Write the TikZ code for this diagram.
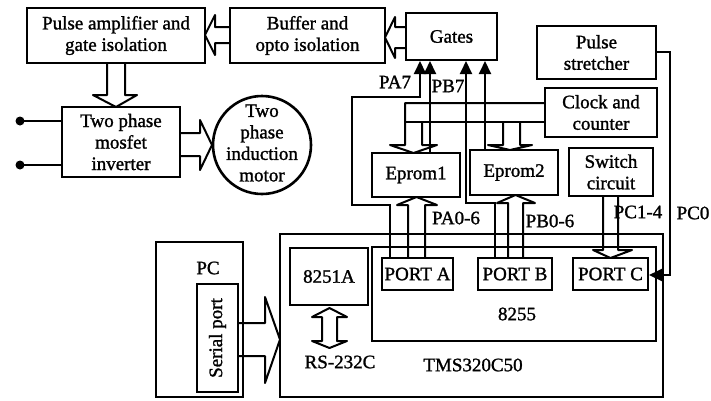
\documentclass[tikz,border=0pt]{standalone}
\usepackage{fontspec}
\setmainfont{Liberation Serif}[FakeBold=1.3]
\usetikzlibrary{arrows.meta}
\newcommand\figfont{\fontsize{19}{21.5}\selectfont}
\begin{document}
\begin{tikzpicture}[x=1pt,y=-1pt,
  box/.style={draw, line width=2.6pt, align=center, inner sep=0pt, font=\figfont},
  conn/.style={line width=2pt},
  harrow/.style={line width=2pt, line join=round},
  tip/.style={-{Triangle[length=13pt,width=12pt]}},
  lbl/.style={font=\figfont, inner sep=0pt, align=center}
]
\useasboundingbox (0,0) rectangle (711,400);

% boxes
\node[box, minimum width=178pt, minimum height=55pt] (pamp) at (116,35.5) {Pulse amplifier and\\gate isolation};
\node[box, minimum width=155pt, minimum height=55pt] (buf) at (307.5,35.5) {Buffer and\\opto isolation};
\node[box, minimum width=91pt, minimum height=47pt] (gates) at (451.5,36.5) {Gates};
\node[box, minimum width=119pt, minimum height=53pt] (pstr) at (596.5,52.5) {Pulse\\stretcher};
\node[box, minimum width=112pt, minimum height=49pt] (clk) at (601,112.5) {Clock and\\counter};
\node[box, minimum width=88pt, minimum height=44pt] (ep1) at (416,175) {Eprom1};
\node[box, minimum width=88pt, minimum height=45pt] (ep2) at (514,172.5) {Eprom2};
\node[box, minimum width=84pt, minimum height=48pt] (sw) at (611,172) {Switch\\circuit};
\node[box, minimum width=118pt, minimum height=70pt] (inv) at (121,142) {Two phase\\mosfet\\inverter};
\node[draw, circle, line width=2.6pt, minimum size=98pt, inner sep=0pt] (motor) at (262,145) {};
\node[lbl] (motortxt) at (262,143) {Two\\phase\\induction\\motor};

\node[box, minimum width=87pt, minimum height=155pt] (pc) at (199.5,319.5) {};
\node[lbl] (pctxt) at (208,268) {PC};
\node[box, minimum width=41pt, minimum height=108pt] (serial) at (217.5,338) {};
\node[lbl, rotate=90] (serialtxt) at (serial) {Serial port};

\node[box, minimum width=383pt, minimum height=163pt] (tms) at (471.5,315.5) {};
\node[box, minimum width=78pt, minimum height=57pt] (usart) at (329,276.5) {8251A};
\node[box, minimum width=284pt, minimum height=94pt] (ppi) at (514,294) {};
\node[box, minimum width=71pt, minimum height=32pt] (pa) at (417.5,274) {PORT A};
\node[box, minimum width=74pt, minimum height=32pt] (pb) at (515,274) {PORT B};
\node[box, minimum width=75pt, minimum height=32pt] (pcp) at (610.5,274) {PORT C};

% labels
\node[lbl] (l8255) at (517,314) {8255};
\node[lbl] (ltms) at (473,365) {TMS320C50};
\node[lbl] (lrs) at (340,362) {RS-232C};
\node[lbl] (lpa7) at (395,82) {PA7};
\node[lbl] (lpb7) at (448,86) {PB7};
\node[lbl] (lpa06) at (456,218) {PA0-6};
\node[lbl] (lpb06) at (550,221) {PB0-6};
\node[lbl] (lpc14) at (638,212) {PC1-4};
\node[lbl] (lpc0) at (693,213) {PC0};

% hollow arrows
\draw[harrow] (406,27) -- (395,27) -- (395,17) -- (385,37.5) -- (395,58) -- (395,48) -- (406,48);
\draw[harrow] (230,27) -- (215,27) -- (215,15) -- (205,35) -- (215,55) -- (215,43) -- (230,43);
\draw[harrow] (107,63) -- (107,95) -- (93,95) -- (116,107) -- (137,95) -- (125,95) -- (125,63);
\draw[harrow] (180,133) -- (200,133) -- (200,120) -- (212,145) -- (200,170) -- (200,156) -- (180,156);
\draw[harrow] (238,323) -- (265,323) -- (265,297) -- (280,339.5) -- (265,383) -- (265,356) -- (238,356);
\draw[harrow] (322,317) -- (312,317) -- (329.5,308) -- (347,317) -- (337,317) -- (337,341) -- (347,341) -- (329.5,348) -- (312,341) -- (322,341) -- cycle;
\draw[harrow] (408,258) -- (408,205) -- (397,205) -- (416.5,197) -- (437,205) -- (425,205) -- (425,258);
\draw[harrow] (508,258) -- (508,203) -- (497,203) -- (515.5,195) -- (535,203) -- (523,203) -- (523,258);
\draw[harrow] (603,196) -- (603,250) -- (593,250) -- (610.5,258) -- (632,250) -- (618,250) -- (618,196);

% clock bus to eproms
\draw[harrow] (545,103) -- (405,103) -- (405,145) -- (390,145) -- (413.5,153) -- (437,145) -- (422,145) -- (422,122);
\draw[harrow] (545,122) -- (405,122);
\draw[harrow] (503,122) -- (503,145) -- (488,145) -- (510,150) -- (532,145) -- (520,145) -- (520,122);

% thin connectors
\draw[conn,tip] (390,258) -- (390,205) -- (352,205) -- (352,97) -- (420,97) -- (420,61);
\draw[conn,tip] (430,153) -- (430,61);
\draw[conn,tip] (495,258) -- (495,203) -- (466,203) -- (466,61);
\draw[conn,tip] (485,150) -- (485,61);
\draw[conn,tip] (657,52) -- (670,52) -- (670,275) -- (649,275);

% input terminals
\fill (20,121) circle (4.5pt);
\fill (20,165) circle (4.5pt);
\draw[conn] (20,121) -- (62,121);
\draw[conn] (20,165) -- (62,165);
\end{tikzpicture}
\end{document}
